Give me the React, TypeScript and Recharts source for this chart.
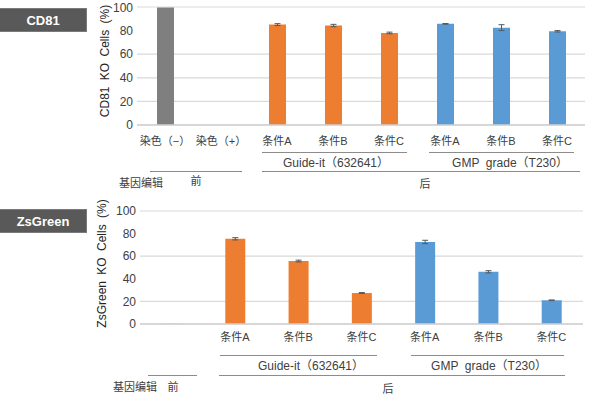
import React from 'react';
import { BarChart, Bar, XAxis, YAxis, CartesianGrid, ErrorBar, Cell } from 'recharts';

// ---- Data ----
const cd81Ids = ['neg', 'pos', 'gA', 'gB', 'gC', 'mA', 'mB', 'mC'];
const cd81Labels = ['染色（−）', '染色（+）', '条件A', '条件B', '条件C', '条件A', '条件B', '条件C'];
const cd81Values = [99.5, 0, 85.1, 84.3, 78, 85.7, 82.5, 79.4];
const cd81Errors = [null, null, 0.8, 1.0, 0.7, 0.3, 2.5, 0.6];
const cd81Groups = ['gray', 'gray', 'orange', 'orange', 'orange', 'blue', 'blue', 'blue'];

const zsIds = ['pre', 'gA', 'gB', 'gC', 'mA', 'mB', 'mC'];
const zsLabels = ['', '条件A', '条件B', '条件C', '条件A', '条件B', '条件C'];
const zsValues = [0.8, 75.4, 55.7, 27.4, 72.6, 46.2, 21];
const zsErrors = [null, 1.0, 0.8, 0.4, 1.5, 1.0, 0.3];
const zsGroups = ['light', 'orange', 'orange', 'orange', 'blue', 'blue', 'blue'];

const yTicks = [0, 20, 40, 60, 80, 100];

const COLORS: Record<string, string> = {
  gray: '#7f7f7f',
  light: '#d4d4d4',
  orange: '#ed7d31',
  blue: '#5b9bd5',
};

const cd81Data = cd81Ids.map((id, i) => ({ id, label: cd81Labels[i], value: cd81Values[i], err: cd81Errors[i], group: cd81Groups[i] }));
const zsData = zsIds.map((id, i) => ({ id, label: zsLabels[i], value: zsValues[i], err: zsErrors[i], group: zsGroups[i] }));

const FONT = '"Liberation Sans", Arial, "Noto Sans CJK SC", sans-serif';
const TEXT = '#404040';

function Txt({ x, y, children, size = 11 }: { x: number; y: number; children: React.ReactNode; size?: number }) {
  return (
    <div
      style={{
        position: 'absolute',
        left: x,
        top: y,
        transform: 'translate(-50%, -50%)',
        fontSize: size,
        color: TEXT,
        whiteSpace: 'pre',
        fontFamily: FONT,
        lineHeight: 1,
      }}
    >
      {children}
    </div>
  );
}

function HLine({ x1, x2, y }: { x1: number; x2: number; y: number }) {
  return <div style={{ position: 'absolute', left: x1, top: y, width: x2 - x1, height: 1, background: '#8c8c8c' }} />;
}

function Tag({ y, text }: { y: number; text: string }) {
  return (
    <div
      style={{
        position: 'absolute',
        left: 0,
        top: y,
        width: 86,
        height: 22,
        background: '#595959',
        border: '1px solid #7a7a7a',
        borderLeft: 'none',
        color: '#fff',
        fontFamily: FONT,
        fontWeight: 'bold',
        fontSize: 13,
        display: 'flex',
        alignItems: 'center',
        justifyContent: 'center',
      }}
    >
      {text}
    </div>
  );
}

function Chart({
  data,
  barSize,
  yWidth,
  margin,
  xHeight,
  tickMargin,
  yLabel,
  yLabelDx,
  yLabelDy,
}: any) {
  const labelMap: Record<string, string> = {};
  data.forEach((d: any) => (labelMap[d.id] = d.label));
  return (
    <BarChart width={600} height={150} data={data} margin={margin} barCategoryGap={0}>
      <CartesianGrid vertical={false} stroke="#d9d9d9" strokeWidth={1.2} />
      <XAxis
        dataKey="id"
        tickFormatter={(v: string) => labelMap[v]}
        axisLine={{ stroke: '#d0d0d0', strokeWidth: 1.5 }}
        tickLine={false}
        tickSize={0}
        tickMargin={tickMargin}
        height={xHeight}
        interval={0}
        tick={{ fontSize: 11, fill: TEXT, fontFamily: FONT }}
      />
      <YAxis
        domain={[0, 100]}
        ticks={yTicks}
        width={yWidth}
        axisLine={false}
        tickLine={false}
        tickSize={0}
        tickMargin={4}
        tick={{ fontSize: 12, fill: TEXT, fontFamily: FONT }}
        label={{
          value: yLabel,
          angle: -90,
          position: 'center',
          dx: yLabelDx,
          dy: yLabelDy,
          style: { fontSize: 12, fill: '#262626', fontFamily: FONT, wordSpacing: 3 },
        }}
      />
      <Bar dataKey="value" barSize={barSize} isAnimationActive={false}>
        {data.map((d: any) => (
          <Cell key={d.id} fill={COLORS[d.group]} />
        ))}
        <ErrorBar dataKey="err" width={3} stroke="#595959" strokeWidth={1} direction="y" />
      </Bar>
    </BarChart>
  );
}

export default function App() {
  return (
    <div style={{ position: 'absolute', left: 0, top: 0, width: 600, height: 399, background: '#fff', fontFamily: FONT, overflow: 'hidden' }}>
      {/* Top chart */}
      <div style={{ position: 'absolute', left: 0, top: 0 }}>
        <Chart
          data={cd81Data}
          barSize={17}
          yWidth={137}
          margin={{ top: 7, right: 15, left: 0, bottom: 0 }}
          xHeight={25}
          tickMargin={12}
          yLabel="CD81 KO Cells (%)"
          yLabelDx={36}
          yLabelDy={-5}
        />
      </div>
      <Tag y={8} text="CD81" />
      <HLine x1={262} x2={407} y={152} />
      <HLine x1={429} x2={574} y={152} />
      <Txt x={336} y={163} size={12}>Guide-it（632641）</Txt>
      <Txt x={510} y={163} size={12}>GMP  grade（T230）</Txt>
      <HLine x1={150} x2={242} y={171} />
      <HLine x1={262} x2={580} y={171} />
      <Txt x={141} y={183}>基因编辑</Txt>
      <Txt x={196} y={181}>前</Txt>
      <Txt x={425} y={184}>后</Txt>

      {/* Bottom chart */}
      <div style={{ position: 'absolute', left: 0, top: 200 }}>
        <Chart
          data={zsData}
          barSize={20}
          yWidth={140}
          margin={{ top: 11, right: 17, left: 0, bottom: 0 }}
          xHeight={26}
          tickMargin={9}
          yLabel="ZsGreen KO Cells (%)"
          yLabelDx={32}
          yLabelDy={-4}
        />
      </div>
      <Tag y={209} text="ZsGreen" />
      <HLine x1={220} x2={377} y={355} />
      <HLine x1={411} x2={564} y={355} />
      <Txt x={311} y={366} size={12}>Guide-it（632641）</Txt>
      <Txt x={489} y={366} size={12}>GMP  grade（T230）</Txt>
      <HLine x1={148} x2={197} y={375} />
      <HLine x1={219} x2={565} y={375} />
      <Txt x={135} y={387}>基因编辑</Txt>
      <Txt x={173} y={387}>前</Txt>
      <Txt x={388} y={389}>后</Txt>
    </div>
  );
}
